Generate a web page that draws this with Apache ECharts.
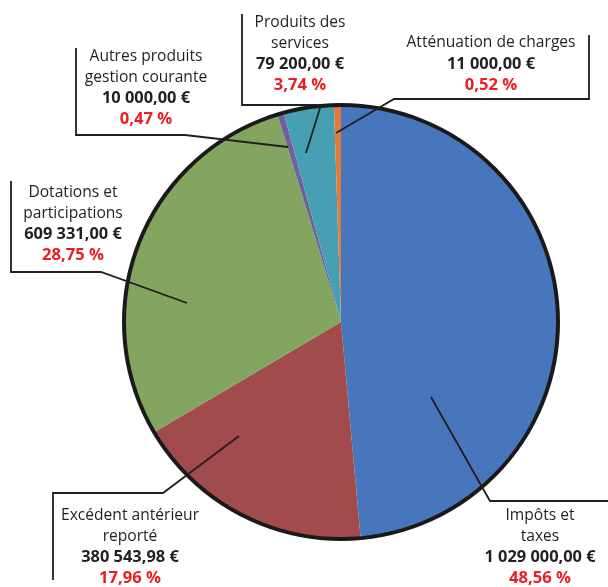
<!DOCTYPE html>
<html>
<head>
<meta charset="utf-8">
<script src="https://cdn.jsdelivr.net/npm/echarts@6/dist/echarts.min.js"></script>
<style>
  html, body { margin: 0; padding: 0; background: #fff; }
  #chart { width: 608px; height: 587px; }
</style>
</head>
<body>
<div id="chart"></div>
<script>
// ---- Data ----
var categories = [
  'Impôts et\ntaxes',
  'Excédent antérieur\nreporté',
  'Dotations et\nparticipations',
  'Autres produits\ngestion courante',
  'Produits des\nservices',
  'Atténuation de charges'
];
var amounts = [1029000, 380543.98, 609331, 10000, 79200, 11000];
var percents = [48.56, 17.96, 28.75, 0.47, 3.74, 0.52];

// ---- Styles / layout ----
var colors = ['#4876bd', '#a24b4c', '#83a55f', '#7060a0', '#479fb4', '#e07b3a'];
var CENTER = [341, 322];
var RADIUS = 217;
// label block centres and leader / frame polylines (layout only)
var labelPos = [
  { x: 540, y: 547, line: [[431, 397], [490, 501], [608, 501]] },
  { x: 130, y: 547, line: [[239, 436], [163, 493], [53, 493], [53, 580]] },
  { x: 73,  y: 224, line: [[187, 303], [101, 272], [11, 272], [11, 181]] },
  { x: 146, y: 88,  line: [[288, 147], [185, 135], [76, 135], [76, 48]] },
  { x: 300, y: 54,  line: [[306, 153], [321, 105], [242, 105], [242, 14]] },
  { x: 491, y: 64,  line: [[336, 133], [394, 99], [589, 99], [589, 35]] }
];

function fmtEuro(v) {
  var parts = v.toFixed(2).split('.');
  var intPart = parts[0].replace(/\B(?=(\d{3})+(?!\d))/g, ' ');
  return intPart + ',' + parts[1] + ' €';
}
function fmtPct(p) {
  return p.toFixed(2).replace('.', ',') + ' %';
}

var FONT = '"Open Sans", "Noto Sans", sans-serif';
var TXT = '#231f20';

var sliceData = categories.map(function (c, i) {
  return { name: c, value: amounts[i], itemStyle: { color: colors[i] } };
});
var labelData = categories.map(function (c, i) {
  return { name: c, value: amounts[i], itemStyle: { color: 'rgba(0,0,0,0)' } };
});

var chart = echarts.init(document.getElementById('chart'), null, { renderer: 'canvas' });
chart.setOption({
  animation: false,
  backgroundColor: '#ffffff',
  series: [
    {
      // coloured slices
      type: 'pie',
      center: CENTER,
      radius: RADIUS,
      startAngle: 90,
      clockwise: true,
      silent: true,
      z: 2,
      emphasis: { disabled: true },
      itemStyle: { borderWidth: 0 },
      label: { show: false },
      labelLine: { show: false },
      data: sliceData
    },
    {
      // pie outline
      type: 'pie',
      center: CENTER,
      radius: RADIUS,
      silent: true,
      z: 3,
      emphasis: { disabled: true },
      label: { show: false },
      labelLine: { show: false },
      data: [{ value: 1, itemStyle: { color: 'rgba(0,0,0,0)', borderColor: '#1a1a1a', borderWidth: 4 } }]
    },
    {
      // labels + leader lines, drawn over the slices
      type: 'pie',
      center: CENTER,
      radius: RADIUS,
      startAngle: 90,
      clockwise: true,
      avoidLabelOverlap: false,
      silent: true,
      z: 4,
      emphasis: { disabled: true },
      itemStyle: { borderWidth: 0 },
      data: labelData,
      label: {
        show: true,
        position: 'outside',
        fontFamily: FONT,
        lineHeight: 21,
        align: 'center',
        formatter: function (p) {
          var i = p.dataIndex;
          var lines = categories[i].split('\n').map(function (s) { return '{n|' + s + '}'; });
          lines.push('{v|' + fmtEuro(amounts[i]) + '}');
          lines.push('{p|' + fmtPct(percents[i]) + '}');
          return lines.join('\n');
        },
        rich: {
          n: { fontFamily: FONT, fontSize: 15.6, color: TXT, lineHeight: 21, align: 'center' },
          v: { fontFamily: FONT, fontSize: 16.4, fontWeight: 'bold', color: TXT, lineHeight: 21, align: 'center' },
          p: { fontFamily: FONT, fontSize: 16.6, fontWeight: 'bold', color: '#ed1c24', lineHeight: 21, align: 'center' }
        }
      },
      labelLine: {
        show: true,
        smooth: false,
        lineStyle: { color: TXT, width: 1.8 }
      },
      labelLayout: function (params) {
        var lp = labelPos[params.dataIndex];
        return {
          x: lp.x,
          y: lp.y,
          align: 'center',
          verticalAlign: 'middle',
          labelLinePoints: lp.line
        };
      }
    }
  ]
});
</script>
</body>
</html>
